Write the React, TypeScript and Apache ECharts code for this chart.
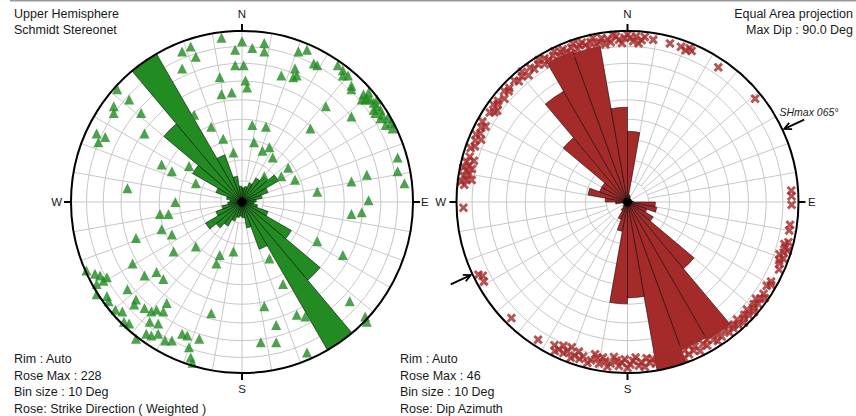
import React, { useEffect, useRef } from "react";
import * as echarts from "echarts";

// ---------- data ----------
const BIN_STARTS = [
  "0", "10", "20", "30", "40", "50", "60", "70", "80", "90", "100", "110",
  "120", "130", "140", "150", "160", "170", "180", "190", "200", "210", "220", "230",
  "240", "250", "260", "270", "280", "290", "300", "310", "320", "330", "340", "350",
];

// Strike rose (weighted), 10° bins from 0° to 180°; the rose is bidirectional
const STRIKE_ROSE = [19, 21, 27, 37, 45, 56, 37, 27, 19, 16, 21, 37, 76, 136, 228, 67, 35, 21];
const STRIKE_ROSE_MAX = 228;

// Dip azimuth rose, 10° bins from 0° to 360°
const DIP_AZ_ROSE = [
  19, 2, 1.6, 1, 1, 1, 1, 1, 1.6, 7.5, 8, 5.5,
  8, 23.4, 42.8, 42.2, 46, 25.8, 27.4, 8, 5, 2.7, 1.6, 1,
  1, 1.3, 3.2, 6, 10.8, 8, 8, 22.6, 34.4, 43, 42.5, 25.5,
];
const DIP_AZ_ROSE_MAX = 46;

// Left net: poles, projected position in % of the primitive circle radius [east, north]
const LEFT_POLES = [
  [-12, 96], [0, 94], [13, 93], [-30, 91], [-35, 88], [-4, 89], [6, 90], [13, 88], [-27, 85], [33, 88],
  [38, 89], [42, 81], [44, 80], [-35, 78], [-4, 80], [1, 80], [31, 78], [23, 74], [30, 73], [32, 74],
  [56, 80], [59, 77], [59, 74], [62, 74], [-13, 73], [2, 71], [3, 67], [64, 68], [64, 66], [-12, 63],
  [-6, 64], [-73, 66], [-66, 60], [-75, 56], [-75, 52], [-59, 52], [49, 56], [64, 50],
  [71, 63], [73, 61], [75, 60], [72, 60], [77, 58], [79, 56], [81, 54], [77, 54], [82, 51], [85, 49],
  [81, 49], [87, 46], [88, 43], [79, 60], [74, 64], [78, 52], [84, 45], [70, 60],
  [-28, 51], [-18, 44], [6, 45], [14, 44], [40, 43], [-85, 40], [-80, 38], [-84, 35], [-57, 40], [-11, 37],
  [7, 35], [12, 30], [16, 32], [18, 26], [27, 20], [91, 26], [91, 18], [95, 11], [73, 16], [64, 12],
  [-47, 22], [-41, 18], [-31, 21], [-5, 29], [13, 15], [23, 15], [31, 13], [44, 6], [74, 1], [-67, 8],
  [-39, 0], [-27, 11],
  [-48, -7], [-43, -7], [64, -7], [70, -6], [-47, -16], [-62, -21], [-41, -19], [-40, -29], [-27, -26], [-13, -31],
  [-5, -29], [-15, -36], [16, -33], [44, -23], [59, -31], [-64, -36], [-91, -40], [-86, -42], [-83, -43], [-79, -44],
  [-81, -46], [-85, -48], [-57, -43], [-50, -41], [-46, -45], [-67, -51], [24, -48], [-85, -54], [-79, -55], [-78, -58],
  [-62, -57], [-63, -60], [-44, -59], [-74, -63], [-70, -64], [-57, -62], [-53, -64], [-50, -63], [-46, -64], [-18, -65],
  [13, -61], [63, -58], [32, -66], [37, -67], [72, -67], [73, -70], [-69, -70], [-66, -71], [-54, -70], [-49, -71],
  [20, -72], [-56, -77], [-53, -78], [-49, -77], [-62, -80], [-35, -77], [-32, -78], [-25, -80], [-45, -81], [-41, -81],
  [11, -82], [20, -82], [-31, -85], [38, -88], [-30, -91], [-29, -94],
];

// Right net: poles as [azimuth °, radius in % of the primitive circle]
const RIGHT_POLES = [
  [276, 96], [277, 98], [278, 95], [279, 97], [280, 94], [281, 96], [282, 98], [283, 95], [284, 97], [286, 96],
  [278, 92], [282, 93], [285, 93],
  [289, 97], [290, 95], [292, 96], [294, 97], [295, 95], [297, 96], [298, 94], [299, 97], [293, 93],
  [303, 96], [304, 94], [306, 97], [307, 95], [308, 96], [310, 94], [312, 97], [313, 95], [314, 96], [305, 93],
  [317, 97], [318, 95], [320, 96], [321, 98], [322, 94], [324, 97], [325, 95], [327, 96], [328, 98], [329, 94],
  [330, 97], [331, 95], [332, 93], [333, 96], [334, 98], [335, 94], [336, 96], [337, 97], [338, 95], [339, 93],
  [340, 96], [341, 98], [342, 94], [343, 96], [344, 97], [345, 95], [346, 93], [347, 96], [348, 98], [349, 94],
  [350, 95], [351, 97], [352, 93], [353, 96], [354, 94], [355, 98], [356, 97], [357, 95], [358, 93],
  [359, 96], [0, 98], [1, 96], [2, 94], [3, 97], [4, 93], [5, 95], [6, 97],
  [9, 96], [15, 96], [19, 96], [21, 95], [22, 97], [23, 96], [34, 95], [51, 96],
  [86, 96], [88, 96], [91, 96], [98, 96], [100, 96],
  [104, 97], [105, 95], [106, 96], [107, 98], [108, 96], [109, 94], [110, 97], [111, 95], [112, 96], [114, 97],
  [119, 96], [120, 97], [121, 95],
  [124, 96], [125, 98], [126, 96], [127, 94], [128, 97], [129, 95], [130, 96], [131, 98], [132, 94], [133, 97],
  [134, 95], [135, 96], [136, 98], [137, 94], [138, 97], [139, 95],
  [140, 96], [141, 93], [142, 97], [143, 94], [145, 96], [146, 93], [147, 97], [148, 95], [150, 93], [151, 96],
  [152, 94], [154, 97], [155, 93], [156, 95], [158, 96], [159, 93], [160, 97], [162, 94], [163, 96], [164, 93],
  [166, 95], [167, 97], [168, 94], [170, 96], [171, 93], [172, 95], [174, 97], [175, 94], [176, 96], [178, 93],
  [179, 95], [180, 97], [182, 94], [183, 96], [184, 93], [186, 95], [187, 97], [188, 94], [190, 96], [191, 93],
  [193, 95], [194, 97], [196, 94], [197, 96], [199, 95], [200, 97], [202, 94], [203, 96], [205, 95], [206, 97],
  [207, 94],
  [157, 91], [161, 91], [165, 92], [169, 91], [173, 92], [177, 91], [181, 92], [185, 91], [189, 92], [192, 91],
  [198, 92], [201, 91], [204, 92],
  [213, 96], [225, 96], [241, 96], [243, 95], [244, 97], [268, 96],
];

const SHMAX_AZIMUTH = 65;

const LEFT_INFO = ["Rim : Auto", "Rose Max : 228", "Bin size : 10 Deg", "Rose: Strike Direction ( Weighted )"];
const RIGHT_INFO = ["Rim : Auto", "Rose Max : 46", "Bin size : 10 Deg", "Rose: Dip Azimuth"];
const NET_RING_DIPS = [10, 20, 30, 40, 50, 60, 70, 80];

// ---------- layout / style ----------
const FONT = '"Liberation Sans", Arial, Helvetica, sans-serif';
const GREEN = "#228B22";
const BROWN = "#A52A2A";
const GRID_COLOR = "#c8c8c8";
const TEXT_COLOR = "#1a1a1a";
const RADIUS = 171;
const LEFT_CENTER = [242, 202];
const RIGHT_CENTER = [627.5, 202];
const X_SYMBOL = "path://M0,2.2 L2.2,0 L5,2.8 L7.8,0 L10,2.2 L7.2,5 L10,7.8 L7.8,10 L5,7.2 L2.2,10 L0,7.8 L2.8,5 Z";

function ringRadius(dip: number) {
  return RADIUS * Math.SQRT2 * Math.sin(((dip / 2) * Math.PI) / 180);
}
function polarPoint(c: number[], az: number, r: number) {
  const a = (az * Math.PI) / 180;
  return [c[0] + r * Math.sin(a), c[1] - r * Math.cos(a)];
}

function text(x: number, y: number, t: string, o: any = {}) {
  const align = o.align || "left";
  return {
    type: "text",
    x,
    y,
    z: 30,
    silent: true,
    style: {
      text: t,
      fill: o.color || TEXT_COLOR,
      fontSize: o.size || 12.5,
      fontFamily: FONT,
      fontStyle: o.italic ? "italic" : "normal",
      textAlign: align,
      align,
      textVerticalAlign: "middle",
      verticalAlign: "middle",
    },
  };
}

function netElements(c: number[], labels: { w: number; e: number }) {
  const els: any[] = [];
  for (const d of NET_RING_DIPS) {
    els.push({
      type: "circle",
      silent: true,
      z: 1,
      shape: { cx: c[0], cy: c[1], r: ringRadius(d) },
      style: { fill: "none", stroke: GRID_COLOR, lineWidth: 1 },
    });
  }
  for (let a = 0; a < 360; a += 10) {
    const r0 = a % 30 === 0 ? 4 : ringRadius(10);
    const p0 = polarPoint(c, a, r0);
    const p1 = polarPoint(c, a, RADIUS);
    els.push({
      type: "line",
      silent: true,
      z: 1,
      shape: { x1: p0[0], y1: p0[1], x2: p1[0], y2: p1[1] },
      style: { stroke: GRID_COLOR, lineWidth: 1 },
    });
  }
  els.push({
    type: "circle",
    silent: true,
    z: 20,
    shape: { cx: c[0], cy: c[1], r: RADIUS },
    style: { fill: "none", stroke: "#000", lineWidth: 2 },
  });
  for (const a of [0, 90, 180, 270]) {
    const p0 = polarPoint(c, a, RADIUS);
    const p1 = polarPoint(c, a, RADIUS + 7);
    els.push({
      type: "line",
      silent: true,
      z: 20,
      shape: { x1: p0[0], y1: p0[1], x2: p1[0], y2: p1[1] },
      style: { stroke: "#000", lineWidth: 2 },
    });
  }
  els.push({
    type: "circle",
    silent: true,
    z: 20,
    shape: { cx: c[0], cy: c[1], r: 4.5 },
    style: { fill: "#000" },
  });
  els.push(text(c[0], 14, "N", { align: "center", size: 11.5 }));
  els.push(text(c[0], 389, "S", { align: "center", size: 11.5 }));
  els.push(text(labels.w, c[1], "W", { align: "right", size: 11.5 }));
  els.push(text(labels.e, c[1], "E", { align: "left", size: 11.5 }));
  return els;
}

function arrow(c: number[], az: number) {
  const head = polarPoint(c, az, RADIUS + 2);
  const tail = polarPoint(c, az, RADIUS + 24);
  const ux = (head[0] - tail[0]) / 22;
  const uy = (head[1] - tail[1]) / 22;
  const w1 = [head[0] - 7 * ux - 3.5 * uy, head[1] - 7 * uy + 3.5 * ux];
  const w2 = [head[0] - 7 * ux + 3.5 * uy, head[1] - 7 * uy - 3.5 * ux];
  return [
    {
      type: "line",
      silent: true,
      z: 25,
      shape: { x1: tail[0], y1: tail[1], x2: head[0], y2: head[1] },
      style: { stroke: "#000", lineWidth: 1.8 },
    },
    {
      type: "polyline",
      silent: true,
      z: 25,
      shape: { points: [w1, head, w2] },
      style: { stroke: "#000", lineWidth: 1.8, fill: "none" },
    },
  ];
}

const hiddenAxis = {
  axisLine: { show: false },
  axisTick: { show: false },
  axisLabel: { show: false },
  splitLine: { show: false },
  splitArea: { show: false },
};

function buildOption() {
  const graphics: any[] = [
    {
      type: "rect",
      silent: true,
      z: 30,
      shape: { x: 10, y: 0, width: 846, height: 1.5 },
      style: { fill: "#9a9a9a" },
    },
    ...netElements(LEFT_CENTER, { w: 62, e: 421 }),
    ...netElements(RIGHT_CENTER, { w: 446, e: 808 }),
    ...arrow(RIGHT_CENTER, SHMAX_AZIMUTH),
    ...arrow(RIGHT_CENTER, SHMAX_AZIMUTH + 180),
    text(RIGHT_CENTER[0] + 152, 112, `SHmax ${String(SHMAX_AZIMUTH).padStart(3, "0")}°`, { italic: true, size: 10.5 }),
    text(14, 14, "Upper Hemisphere"),
    text(14, 30, "Schmidt Stereonet"),
    text(853, 14, "Equal Area projection", { align: "right" }),
    text(853, 30, "Max Dip : 90.0 Deg", { align: "right" }),
  ];
  LEFT_INFO.forEach((t, i) => graphics.push(text(14, 359 + i * 16.7, t)));
  RIGHT_INFO.forEach((t, i) => graphics.push(text(400, 359 + i * 16.7, t)));

  return {
    animation: false,
    backgroundColor: "#ffffff",
    grid: [{ left: LEFT_CENTER[0] - RADIUS, top: LEFT_CENTER[1] - RADIUS, width: 2 * RADIUS, height: 2 * RADIUS }],
    xAxis: [{ type: "value", min: -100, max: 100, show: false, gridIndex: 0 }],
    yAxis: [{ type: "value", min: -100, max: 100, show: false, gridIndex: 0 }],
    polar: [
      { center: LEFT_CENTER, radius: [0, RADIUS] },
      { center: RIGHT_CENTER, radius: [0, RADIUS] },
      { center: RIGHT_CENTER, radius: [0, RADIUS] },
    ],
    angleAxis: [
      { polarIndex: 0, type: "category", data: BIN_STARTS, startAngle: 90, clockwise: true, ...hiddenAxis },
      { polarIndex: 1, type: "category", data: BIN_STARTS, startAngle: 90, clockwise: true, ...hiddenAxis },
      { polarIndex: 2, type: "value", min: 0, max: 360, startAngle: 90, clockwise: true, ...hiddenAxis },
    ],
    radiusAxis: [
      { polarIndex: 0, type: "value", min: 0, max: STRIKE_ROSE_MAX, ...hiddenAxis },
      { polarIndex: 1, type: "value", min: 0, max: DIP_AZ_ROSE_MAX, ...hiddenAxis },
      { polarIndex: 2, type: "value", min: 0, max: 100, ...hiddenAxis },
    ],
    series: [
      {
        type: "bar",
        coordinateSystem: "polar",
        polarIndex: 0,
        data: [...STRIKE_ROSE, ...STRIKE_ROSE],
        barCategoryGap: "0%",
        silent: true,
        z: 3,
        itemStyle: { color: GREEN, borderColor: "#000", borderWidth: 0.5 },
      },
      {
        type: "scatter",
        xAxisIndex: 0,
        yAxisIndex: 0,
        data: LEFT_POLES,
        symbol: "triangle",
        symbolSize: 10,
        clip: false,
        silent: true,
        z: 5,
        itemStyle: { color: GREEN },
      },
      {
        type: "bar",
        coordinateSystem: "polar",
        polarIndex: 1,
        data: DIP_AZ_ROSE,
        barCategoryGap: "0%",
        silent: true,
        z: 3,
        itemStyle: { color: BROWN, borderColor: "#000", borderWidth: 0.5 },
      },
      {
        type: "scatter",
        coordinateSystem: "polar",
        polarIndex: 2,
        data: RIGHT_POLES.map(([az, r]) => [r, az]),
        symbol: X_SYMBOL,
        symbolSize: 9.5,
        clip: false,
        silent: true,
        z: 5,
        itemStyle: { color: BROWN },
      },
    ],
    graphic: { elements: graphics },
  };
}

export default function App() {
  const ref = useRef<HTMLDivElement>(null);
  useEffect(() => {
    document.body.style.margin = "0";
    const chart = echarts.init(ref.current!, null, { renderer: "svg" });
    chart.setOption(buildOption() as any);
    return () => chart.dispose();
  }, []);
  return <div ref={ref} style={{ width: 856, height: 416, overflow: "hidden" }} />;
}
